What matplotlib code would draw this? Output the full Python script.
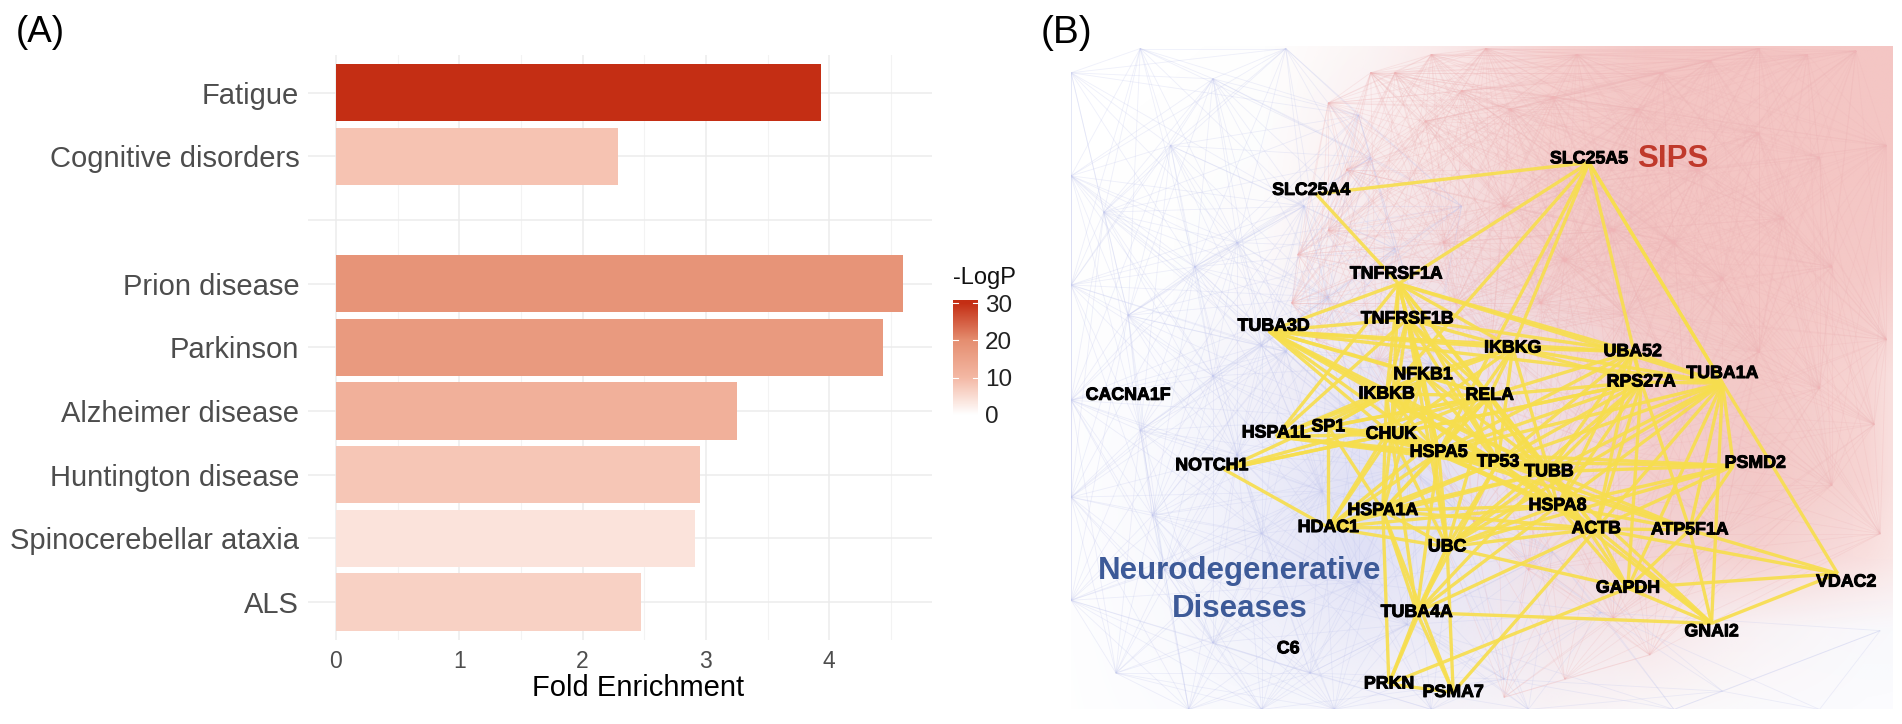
import matplotlib
matplotlib.use("Agg")
import matplotlib.pyplot as plt
import matplotlib.patheffects as pe
import numpy as np
from itertools import combinations
from matplotlib.colors import LinearSegmentedColormap, to_rgb
from matplotlib.collections import LineCollection

plt.rcParams['font.family'] = ['Liberation Sans', 'DejaVu Sans']

# ---------- Panel A data ----------
categories = ["Fatigue", "Cognitive disorders", "", "Prion disease", "Parkinson",
              "Alzheimer disease", "Huntington disease", "Spinocerebellar ataxia", "ALS"]
fold_enrichment = [3.93, 2.29, 0, 4.60, 4.44, 3.25, 2.95, 2.91, 2.47]
neg_log_p = [30, 8.5, 0, 18.5, 17, 12, 8, 4, 6.5]
x_ticks = [0, 1, 2, 3, 4]
cbar_ticks = [0, 10, 20, 30]

# ---------- Panel B data (positions) ----------
gene_names = ["SLC25A5", "SLC25A4", "TNFRSF1A", "TUBA3D", "TNFRSF1B", "IKBKG", "UBA52", "TUBA1A",
              "NFKB1", "RPS27A", "IKBKB", "RELA", "CACNA1F", "HSPA1L", "SP1", "CHUK", "HSPA5",
              "NOTCH1", "TP53", "TUBB", "PSMD2", "HSPA8", "HSPA1A", "HDAC1", "ACTB", "ATP5F1A",
              "UBC", "VDAC2", "GAPDH", "TUBA4A", "GNAI2", "C6", "PRKN", "PSMA7"]
gene_x = [1310, 1081, 1151, 1050, 1160, 1247, 1346, 1420, 1173, 1353, 1143, 1228, 930, 1052, 1095,
          1147, 1186, 999, 1235, 1277, 1447, 1284, 1140, 1095, 1316, 1393, 1193, 1522, 1342, 1168,
          1411, 1062, 1145, 1198]
gene_y = [131, 157, 226, 269, 263, 287, 290, 308, 309, 315, 325, 326, 326, 357, 352, 358, 373, 384,
          381, 389, 382, 417, 421, 435, 436, 437, 451, 480, 485, 505, 521, 535, 564, 571]
# where the node sits relative to its label
anchor_shift = {"SLC25A5": (0, 3), "TUBA1A": (0, 8), "GNAI2": (0, -7), "VDAC2": (-7, -7), "NOTCH1": (10, 3),
                "TUBA3D": (-4, 4), "HSPA1L": (0, 3), "SLC25A4": (4, 3), "TNFRSF1A": (2, 8), "PSMD2": (-18, 2)}
gene_links = {
    "SLC25A5": ["SLC25A4", "TNFRSF1A", "IKBKG", "TUBA1A", "RPS27A", "HSPA5", "VDAC2", "IKBKB"],
    "SLC25A4": ["TNFRSF1A"],
    "TNFRSF1A": ["TUBA3D", "TNFRSF1B", "NFKB1", "IKBKB", "IKBKG", "RELA", "CHUK", "UBA52", "TUBA1A", "TP53",
                 "HSPA1L", "HSPA5", "TUBB"],
    "TUBA3D": ["TNFRSF1B", "NFKB1", "IKBKB", "RELA", "TUBB", "HSPA5", "UBA52", "TUBA1A", "IKBKG", "CHUK", "TP53"],
    "TNFRSF1B": ["NFKB1", "IKBKB", "RELA", "CHUK", "IKBKG", "UBA52", "TP53", "UBC", "HSPA5", "HSPA1L", "TUBB"],
    "IKBKG": ["NFKB1", "IKBKB", "RELA", "CHUK", "UBA52", "RPS27A", "TUBA1A", "TP53", "TUBB", "HSPA5"],
    "UBA52": ["RPS27A", "TUBA1A", "RELA", "HSPA8", "ACTB", "TUBB", "HSPA5", "TP53"],
    "TUBA1A": ["RPS27A", "TUBB", "PSMD2", "ACTB", "ATP5F1A", "HSPA8", "GAPDH", "GNAI2", "HSPA5", "TP53", "UBC"],
    "NFKB1": ["IKBKB", "RELA", "CHUK", "HSPA5", "TP53", "HSPA1A", "HDAC1", "SP1", "UBC", "HSPA1L", "TUBB"],
    "RPS27A": ["RELA", "TUBB", "HSPA8", "ACTB", "ATP5F1A", "GAPDH", "TP53", "UBC", "HSPA5", "CHUK"],
    "IKBKB": ["RELA", "CHUK", "SP1", "HSPA1L", "HSPA5", "TP53", "HSPA1A", "NOTCH1", "TUBB", "HSPA8"],
    "RELA": ["CHUK", "SP1", "HSPA5", "TP53", "TUBB", "HSPA8", "HDAC1", "UBC", "HSPA1A", "ACTB", "NOTCH1", "HSPA1L"],
    "HSPA1L": ["SP1", "HSPA5", "CHUK", "TUBB", "TP53"],
    "SP1": ["CHUK", "HDAC1", "TP53", "HSPA1A", "HSPA5", "TUBB"],
    "CHUK": ["HSPA5", "TP53", "HSPA1A", "UBC", "TUBA4A", "HDAC1", "NOTCH1", "TUBB", "HSPA8"],
    "HSPA5": ["TP53", "TUBB", "HSPA8", "HSPA1A", "UBC", "ACTB", "TUBA4A", "PSMD2", "ATP5F1A", "HDAC1"],
    "NOTCH1": ["HDAC1", "RPS27A"],
    "TP53": ["TUBB", "HSPA8", "HSPA1A", "HDAC1", "ACTB", "UBC", "PSMD2", "TUBA4A", "ATP5F1A"],
    "TUBB": ["HSPA8", "ACTB", "ATP5F1A", "PSMD2", "UBC", "GAPDH", "GNAI2", "TUBA4A", "HSPA1A", "HDAC1"],
    "PSMD2": ["HSPA8", "ACTB", "ATP5F1A", "UBC"],
    "HSPA8": ["HSPA1A", "ACTB", "ATP5F1A", "UBC", "GAPDH", "HDAC1", "GNAI2", "TUBA4A"],
    "HSPA1A": ["HDAC1", "UBC", "ACTB", "TUBA4A", "PRKN", "PSMA7"],
    "HDAC1": ["UBC", "ACTB"],
    "ACTB": ["ATP5F1A", "UBC", "GAPDH", "VDAC2", "GNAI2", "TUBA4A", "PSMA7"],
    "ATP5F1A": ["VDAC2", "GAPDH", "GNAI2"],
    "UBC": ["GAPDH", "TUBA4A", "PRKN", "PSMA7"],
    "VDAC2": ["GAPDH", "GNAI2"],
    "GAPDH": ["GNAI2", "PRKN"],
    "TUBA4A": ["GNAI2", "PRKN", "PSMA7"],
    "PRKN": ["PSMA7"],
}
pink_hub_x = [1095, 1110, 1150, 1175, 1205, 1245, 1280, 1300, 1225, 1180, 1130, 1095, 1070, 1065, 1085,
              1135, 1190, 1240, 1290, 1330, 1370, 1410, 1450, 1490, 1530, 1555, 1500, 1450, 1400, 1350,
              1310, 1270, 1230, 1200, 1340, 1380, 1420, 1470, 1510, 1555, 1545, 1500, 1450, 1390, 1330,
              1270, 1215, 1260, 1330, 1420, 1510, 1550, 1360, 1290, 1240]
pink_hub_y = [85, 140, 60, 100, 75, 90, 80, 45, 40, 45, 60, 190, 210, 250, 280, 300, 200, 170, 215, 190,
              60, 50, 40, 45, 42, 120, 130, 110, 140, 90, 150, 250, 280, 250, 260, 200, 230, 180, 220, 280,
              350, 320, 290, 340, 370, 400, 430, 470, 510, 440, 400, 440, 540, 560, 575]
blue_hub_x = [883, 940, 1000, 1060, 1120, 883, 910, 965, 1020, 1075, 1130, 883, 930, 985, 1040, 1095, 1150,
              1205, 883, 940, 1000, 1060, 1120, 1180, 883, 950, 1020, 1090, 1160, 883, 960, 1040, 1120,
              1200, 1280, 920, 1000, 1080, 1160, 1240, 1320, 1420, 1550, 980, 1040, 1100, 1180, 1260, 1380, 1500]
blue_hub_y = [60, 40, 65, 40, 95, 145, 175, 120, 200, 170, 130, 235, 260, 220, 285, 245, 205, 170, 330,
              355, 310, 290, 345, 300, 410, 425, 375, 405, 385, 495, 470, 440, 480, 420, 455, 555, 530, 555,
              515, 560, 505, 570, 520, 585, 585, 585, 585, 585, 585, 585]
grid_x = [883, 960, 1040, 1120, 1200, 1280, 1360, 1450, 1540, 1560]
grid_y = [38, 130, 220, 310, 400, 460, 520, 585]
pink_density = [[0, 0, 0, .15, .40, .80, .98, 1, 1, 1],
                [0, 0, .02, .25, .50, .85, 1, 1, 1, 1],
                [0, 0, .05, .30, .55, .85, 1, 1, .95, .9],
                [0, 0, .05, .20, .35, .55, .85, .95, .75, .55],
                [0, 0, .03, .10, .25, .55, .85, .95, .75, .55],
                [0, 0, .03, .05, .15, .50, .75, .80, .55, .45],
                [0, 0, .02, .05, .15, .35, .40, .15, .03, .02],
                [0, 0, 0, .03, .08, .15, .10, .03, 0, 0]]
blue_density = [[0, 0, .01, .03, .02, 0, 0, 0, 0, 0],
                [0, .01, .03, .06, .05, 0, 0, 0, 0, 0],
                [.01, .02, .06, .15, .15, .05, 0, 0, 0, 0],
                [.03, .10, .28, .45, .35, .20, .05, 0, 0, 0],
                [.04, .15, .40, .70, .55, .25, .08, .03, 0, 0],
                [.04, .15, .40, .70, .50, .25, .10, .03, 0, 0],
                [.03, .12, .30, .45, .40, .20, .10, .10, .12, .12],
                [.02, .08, .15, .20, .20, .12, .08, .08, .08, .08]]

# ---------- layout ----------
VW, VH = 1568, 597


def rect(x0, y0, x1, y1):
    return [x0 / VW, 1 - y1 / VH, (x1 - x0) / VW, (y1 - y0) / VH]


fig = plt.figure(figsize=(19.02, 7.24), dpi=100)

# ---------- Panel A ----------
ax = fig.add_axes(rect(253.6, 45, 768, 528))
cmap = LinearSegmentedColormap.from_list("lp", ["#ffffff", "#f4b8a4", "#e58e70", "#c42e14"], N=256)
cmap_pos = plt.Normalize(0, 30)
ypos = np.arange(len(categories))
ax.set_axisbelow(True)
bar_idx = [i for i, c in enumerate(categories) if c]
ax.barh([ypos[i] for i in bar_idx], [fold_enrichment[i] for i in bar_idx], height=0.9,
        color=[cmap(cmap_pos(neg_log_p[i])) for i in bar_idx])
ax.set_xlim(-0.23, 4.83)
ax.set_ylim(len(categories) - 1 + 0.6, -0.6)
ax.set_yticks(ypos)
ax.set_yticklabels(categories, fontsize=21, color="#4d4d4d")
ax.set_xticks(x_ticks)
ax.set_xticklabels(x_ticks, fontsize=16.5, color="#4d4d4d")
ax.set_xticks([0.5, 1.5, 2.5, 3.5, 4.5], minor=True)
ax.tick_params(which="both", length=0)
ax.tick_params(axis="y", pad=6)
ax.tick_params(axis="x", pad=7)
ax.grid(True, which="major", color="#ececec", lw=1.1)
ax.grid(True, which="minor", axis="x", color="#f3f3f3", lw=0.8)
for s in ax.spines.values():
    s.set_visible(False)
fig.text(526 / VW, 1 - 567 / VH, "Fold Enrichment", fontsize=21, color="black", ha="center", va="center")

# colour bar
cax = fig.add_axes(rect(786, 247, 806, 342))
grad = np.linspace(31, 0, 200).reshape(-1, 1)
cax.imshow(grad, aspect="auto", cmap=cmap, vmin=0, vmax=30, extent=[0, 1, 0, 31])
cax.set_xticks([])
cax.yaxis.tick_right()
cax.set_yticks(cbar_ticks)
cax.set_yticklabels(cbar_ticks, fontsize=17.5, color="#222222")
cax.tick_params(axis="y", length=0, pad=5)
for v in cbar_ticks:
    cax.plot([0, .2], [v, v], color="white", lw=.8)
    cax.plot([.8, 1], [v, v], color="white", lw=.8)
cax.set_xlim(0, 1)
cax.set_ylim(0, 31)
for s in cax.spines.values():
    s.set_visible(False)
fig.text(786 / VW, 1 - 229 / VH, "-LogP", fontsize=17, va="center", ha="left", color="#111111")

# ---------- Panel B ----------
bx = fig.add_axes(rect(883, 38, 1560, 585))
bx.set_xlim(883, 1560)
bx.set_ylim(585, 38)
bx.axis("off")

xx = np.linspace(883, 1560, 271)
yy = np.linspace(38, 585, 219)


def smooth(values):
    arr = np.array(values)
    col = np.array([np.interp(xx, grid_x, row) for row in arr])
    return np.array([np.interp(yy, grid_y, col[:, j]) for j in range(col.shape[1])]).T


for dens, colour in [(pink_density, "#f4c6c4"), (blue_density, "#d3d6f4")]:
    rgba = np.zeros((len(yy), len(xx), 4))
    rgba[..., :3] = to_rgb(colour)
    rgba[..., 3] = np.clip(smooth(dens), 0, 1)
    bx.imshow(rgba, extent=[883, 1560, 585, 38], aspect="auto", zorder=1, interpolation="bilinear")


def hub_segments(hx, hy, reach):
    return [[(hx[i], hy[i]), (hx[j], hy[j])] for i, j in combinations(range(len(hx)), 2)
            if np.hypot(hx[i] - hx[j], hy[i] - hy[j]) < reach]


bx.add_collection(LineCollection(hub_segments(blue_hub_x, blue_hub_y, 240), colors="#c3c8ee",
                                 linewidths=0.6, alpha=0.28, zorder=2))
bx.add_collection(LineCollection(hub_segments(pink_hub_x, pink_hub_y, 300), colors="#eeb4b6",
                                 linewidths=0.6, alpha=0.25, zorder=3))

pos = {n: (x + anchor_shift.get(n, (0, 0))[0], y + anchor_shift.get(n, (0, 0))[1])
       for n, x, y in zip(gene_names, gene_x, gene_y)}
yellow_segments = [[pos[a], pos[b]] for a, others in gene_links.items() for b in others]
bx.add_collection(LineCollection(yellow_segments, colors="#f7de4e", linewidths=2.4, alpha=0.92, zorder=4))

for name, x, y in zip(gene_names, gene_x, gene_y):
    t = bx.text(x, y, name, fontsize=12.8, fontweight="bold", color="black", ha="center", va="center", zorder=6)
    t.set_path_effects([pe.withStroke(linewidth=0.7, foreground="black")])

bx.text(1379, 131, "SIPS", fontsize=22.5, fontweight="bold", color="#c0392b", ha="center", va="center", zorder=6)
bx.text(1022, 471, "Neurodegenerative", fontsize=22.5, fontweight="bold", color="#3d5a98",
        ha="center", va="center", zorder=6)
bx.text(1022, 502, "Diseases", fontsize=22.5, fontweight="bold", color="#3d5a98",
        ha="center", va="center", zorder=6)

fig.text(13 / VW, 1 - 27 / VH, "(A)", fontsize=26.5, va="center", ha="left", color="black")
fig.text(858 / VW, 1 - 27 / VH, "(B)", fontsize=28, va="center", ha="left", color="black")

fig.savefig("out.png", dpi=100, facecolor="white")
